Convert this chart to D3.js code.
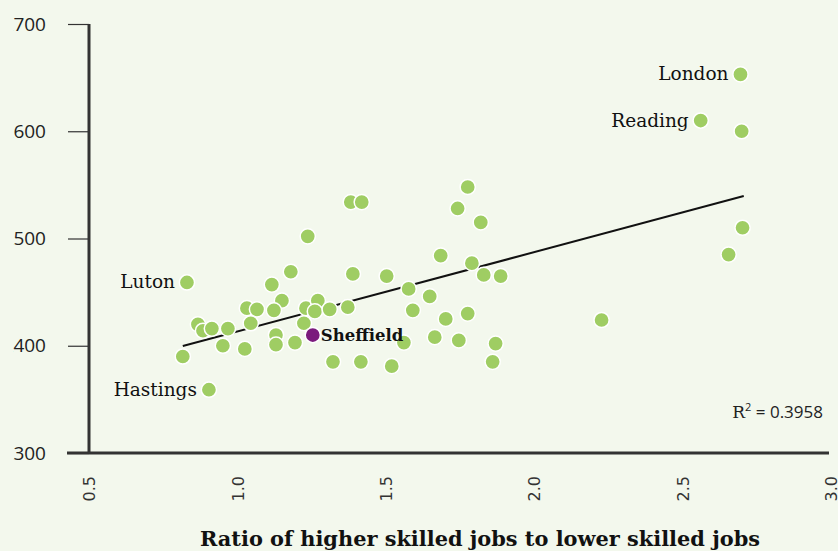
<!DOCTYPE html>
<html>
<head>
<meta charset="utf-8">
<script src="https://cdn.jsdelivr.net/npm/d3@7"></script>
<style>
  body { margin: 0; background: #f3f8ed; }
  svg { display: block; }
</style>
</head>
<body>
<div id="chart"></div>
<script>
// ratio of higher to lower skilled jobs vs weekly pay (£)
const ratio = [0.867, 0.884, 0.914, 0.968, 0.951, 1.025, 1.032, 1.066, 1.045, 1.116,
  1.180, 1.150, 1.123, 1.130, 1.130, 1.194, 0.816, 1.231, 1.224, 1.271,
  1.261, 1.311, 1.372, 1.237, 1.382, 1.419, 1.389, 1.503, 1.577, 1.591,
  1.648, 1.685, 1.702, 1.742, 1.776, 1.790, 1.820, 1.830, 1.887, 1.776,
  1.561, 1.665, 1.746, 1.870, 1.322, 1.416, 1.520, 1.860, 2.227, 2.699,
  2.702, 2.655];
const pay = [420, 414, 416, 416, 400, 397, 435, 434, 421, 457,
  469, 442, 433, 410, 401, 403, 390, 435, 421, 442,
  432, 434, 436, 502, 534, 534, 467, 465, 453, 433,
  446, 484, 425, 528, 548, 477, 515, 466, 465, 430,
  403, 408, 405, 402, 385, 385, 381, 385, 424, 600,
  510, 485];

const namedCities = ["London", "Reading", "Luton", "Hastings", "Sheffield"];
const namedRatio = [2.695, 2.561, 0.830, 0.904, 1.254];
const namedPay = [653, 610, 459, 359, 410];

const xTicks = [0.5, 1.0, 1.5, 2.0, 2.5, 3.0];
const yTicks = [300, 400, 500, 600, 700];

const trendSlope = 74.0, trendIntercept = 339.3;
const trendRange = [0.816, 2.706];
const rSquared = "0.3958";

const w = 838, h = 551;
const svg = d3.select("#chart").append("svg")
  .attr("width", w)
  .attr("height", h);

svg.append("rect").attr("width", w).attr("height", h).attr("fill", "#f3f8ed");

const x = d3.scaleLinear().domain([0.5, 3]).range([89, 831]);
const y = d3.scaleLinear().domain([300, 700]).range([453, 24]);

// the reference crops the left edge of the £ labels
svg.append("defs").append("clipPath").attr("id", "yclip")
  .append("rect").attr("x", 13).attr("y", 0).attr("width", 200).attr("height", h);

// y axis
const yAxis = svg.append("g")
  .attr("clip-path", "url(#yclip)")
  .append("g")
  .attr("transform", "translate(89,0)")
  .call(d3.axisLeft(y).tickValues(yTicks).tickSize(21).tickPadding(22)
    .tickFormat(d => "£" + d));
yAxis.select(".domain").remove();
yAxis.selectAll(".tick line").attr("stroke", "#333").attr("stroke-width", 1.2);
yAxis.selectAll(".tick text")
  .style("font-family", "'Open Sans', sans-serif")
  .style("font-size", "19px")
  .attr("fill", "#222");

svg.append("line")
  .attr("x1", x(0.5)).attr("x2", x(0.5))
  .attr("y1", y(700)).attr("y2", y(300))
  .attr("stroke", "#333").attr("stroke-width", 3);

// x axis
const xAxis = svg.append("g")
  .attr("transform", "translate(0,453)")
  .call(d3.axisBottom(x).tickValues(xTicks).tickSize(0).tickFormat(d3.format(".1f")));
xAxis.select(".domain").remove();
xAxis.selectAll(".tick text")
  .attr("transform", "rotate(-90)")
  .attr("x", -23)
  .attr("y", 0)
  .attr("dy", "0.35em")
  .attr("text-anchor", "end")
  .style("font-family", "'DejaVu Sans', sans-serif")
  .style("font-size", "16px")
  .attr("fill", "#333");

svg.append("line")
  .attr("x1", 67).attr("x2", 829)
  .attr("y1", y(300)).attr("y2", y(300))
  .attr("stroke", "#333").attr("stroke-width", 3);

// trend line
svg.append("line")
  .attr("x1", x(trendRange[0])).attr("y1", y(trendIntercept + trendSlope * trendRange[0]))
  .attr("x2", x(trendRange[1])).attr("y2", y(trendIntercept + trendSlope * trendRange[1]))
  .attr("stroke", "#111").attr("stroke-width", 2);

// dots
const pts = ratio.map((r, i) => ({ r: r, p: pay[i] }));
svg.selectAll(".dot")
  .data(pts)
  .join("circle")
  .attr("class", "dot")
  .attr("cx", d => x(d.r))
  .attr("cy", d => y(d.p))
  .attr("r", 7.6)
  .attr("fill", "#9fcd63")
  .attr("stroke", "#fff")
  .attr("stroke-width", 1.5);

const named = namedCities.map((c, i) => ({ city: c, r: namedRatio[i], p: namedPay[i] }));
svg.selectAll(".named")
  .data(named)
  .join("circle")
  .attr("class", "named")
  .attr("cx", d => x(d.r))
  .attr("cy", d => y(d.p))
  .attr("r", 7.6)
  .attr("fill", d => d.city == "Sheffield" ? "#7b1b7d" : "#9fcd63")
  .attr("stroke", "#fff")
  .attr("stroke-width", 1.5);

svg.selectAll(".label")
  .data(named)
  .join("text")
  .attr("class", "label")
  .attr("x", d => d.city == "Sheffield" ? x(d.r) + 8 : x(d.r) - 12)
  .attr("y", d => y(d.p) + 6)
  .attr("text-anchor", d => d.city == "Sheffield" ? "start" : "end")
  .style("font-family", "'DejaVu Serif', serif")
  .style("font-size", d => d.city == "Sheffield" ? "16.5px" : "18.5px")
  .style("font-weight", d => d.city == "Sheffield" ? "bold" : "normal")
  .attr("fill", "#111")
  .text(d => d.city);

// R squared
const rt = svg.append("text")
  .attr("x", 823).attr("y", 418)
  .attr("text-anchor", "end")
  .style("font-size", "17px")
  .attr("fill", "#222");
rt.append("tspan").style("font-family", "'DejaVu Serif', serif").text("R");
rt.append("tspan").attr("dy", -7).style("font-size", "11px").style("font-family", "'Open Sans', sans-serif").text("2");
rt.append("tspan").attr("dy", 7).style("font-family", "'Open Sans', sans-serif").text(" = " + rSquared);

// axis title
svg.append("text")
  .attr("x", 480).attr("y", 546)
  .attr("text-anchor", "middle")
  .attr("textLength", 560)
  .attr("lengthAdjust", "spacingAndGlyphs")
  .style("font-family", "'DejaVu Serif', serif")
  .style("font-size", "20px")
  .style("font-weight", "bold")
  .attr("fill", "#111")
  .text("Ratio of higher skilled jobs to lower skilled jobs");
</script>
</body>
</html>
